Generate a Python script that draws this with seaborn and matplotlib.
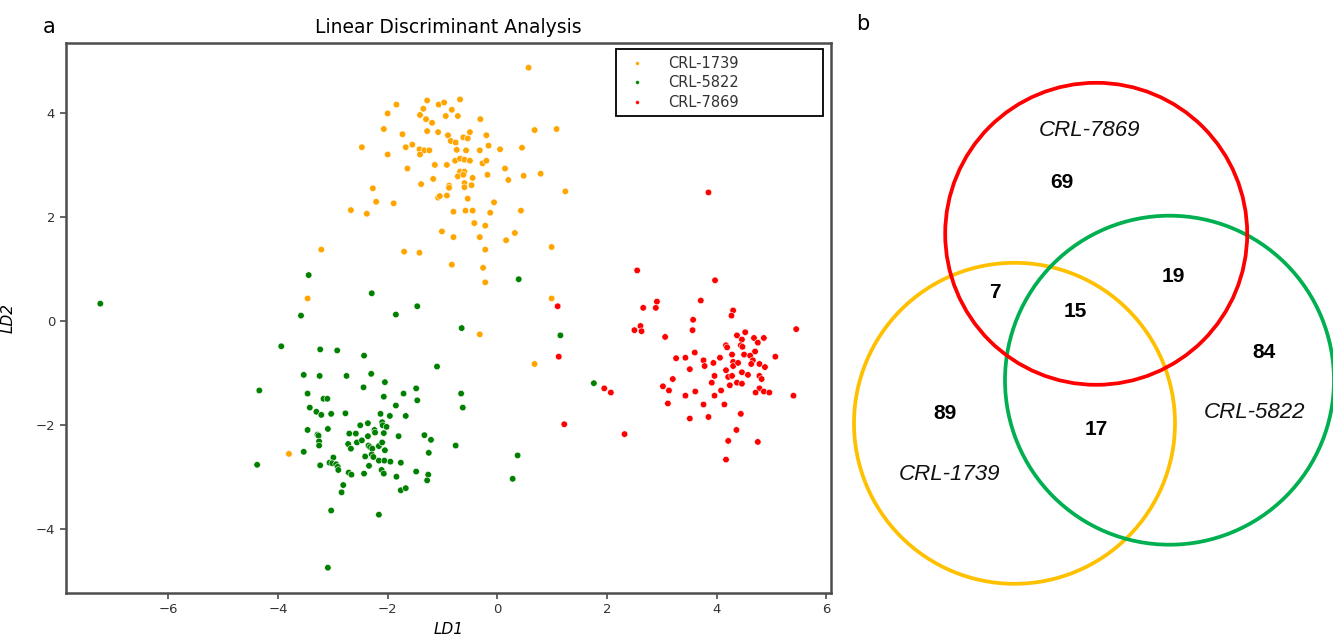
import matplotlib
matplotlib.use("Agg")
import matplotlib.pyplot as plt
import seaborn as sns
import pandas as pd
from matplotlib.patches import Circle

# ---------------- data ----------------
groups = ["CRL-1739", "CRL-5822", "CRL-7869"]
colors = ["orange", "green", "red"]

crl1739 = [(0.57,4.87),(-1.84,4.16),(-1.28,4.24),(-1.07,4.16),(-0.97,4.20),(-0.68,4.26),(-2.00,3.99),(-1.35,4.08),
           (-1.41,3.96),(-1.30,3.88),(-1.19,3.81),(-0.94,3.94),(-0.83,4.06),(-0.72,3.94),(-0.31,3.88),(-2.07,3.69),
           (-1.73,3.59),(-1.28,3.65),(-1.08,3.63),(-0.90,3.57),(-0.50,3.63),(-0.62,3.53),(-0.54,3.51),(-0.20,3.57),
           (0.68,3.67),(1.08,3.69),(-2.47,3.34),(-1.67,3.34),(-1.55,3.39),(-1.42,3.30),(-1.33,3.28),(-1.24,3.28),
           (-1.41,3.20),(-0.85,3.46),(-0.76,3.43),(-0.74,3.29),(-0.57,3.28),(-0.32,3.28),(-0.16,3.37),(0.05,3.30),
           (0.45,3.33),(-2.00,3.20),(-1.64,2.93),(-1.14,3.00),(-0.92,3.00),(-0.77,3.08),(-0.68,3.12),(-0.60,3.10),
           (-0.50,3.08),(-0.27,3.03),(-0.20,3.08),(0.14,2.93),(-0.68,2.87),(-0.60,2.87),(-0.72,2.78),(-0.62,2.81),
           (-0.45,2.75),(-0.18,2.81),(0.20,2.71),(0.48,2.79),(0.79,2.83),(-1.39,2.63),(-1.17,2.73),(-0.88,2.60),
           (-0.88,2.56),(-0.60,2.65),(-0.60,2.57),(-0.47,2.61),(1.24,2.49),(-2.27,2.55),(-1.08,2.37),(-1.05,2.40),
           (-0.92,2.41),(-0.54,2.35),(-2.21,2.29),(-1.89,2.26),(-0.06,2.28),(-2.67,2.13),(-2.38,2.06),(-0.80,2.10),
           (-0.58,2.12),(-0.45,2.12),(-0.13,2.08),(0.43,2.12),(-0.42,1.88),(-0.22,1.83),(-1.01,1.72),(-0.80,1.61),
           (-0.32,1.61),(0.32,1.69),(0.16,1.55),(-3.21,1.37),(-1.70,1.33),(-1.42,1.31),(-0.22,1.37),(0.99,1.42),
           (-0.83,1.08),(-0.26,1.02),(-0.22,0.74),(-3.46,0.43),(0.99,0.43),(-3.80,-2.56),(-0.32,-0.26),(0.68,-0.83)]

crl5822 = [(-7.24,0.33),(-3.94,-0.49),(-4.34,-1.34),(-4.38,-2.77),(-3.44,0.88),(-2.29,0.53),(-1.46,0.28),(-1.85,0.12),
           (0.39,0.80),(-3.58,0.10),(1.15,-0.28),(1.76,-1.20),(-0.65,-0.14),(-3.23,-0.55),(-2.92,-0.57),(-2.43,-0.67),
           (-1.10,-0.88),(-3.53,-1.04),(-3.24,-1.06),(-2.75,-1.06),(-2.30,-1.02),(-2.05,-1.18),(-2.44,-1.28),(-1.48,-1.30),
           (-3.46,-1.40),(-3.17,-1.50),(-3.10,-1.50),(-2.07,-1.46),(-1.71,-1.40),(-1.46,-1.53),(-0.66,-1.40),(-3.42,-1.67),
           (-1.85,-1.63),(-0.63,-1.67),(-3.30,-1.75),(-3.21,-1.81),(-3.03,-1.79),(-2.77,-1.78),(-2.13,-1.79),(-1.96,-1.83),
           (-1.67,-1.83),(-2.50,-2.01),(-2.36,-1.97),(-2.10,-1.95),(-2.09,-2.01),(-2.02,-2.04),(-3.46,-2.10),(-3.09,-2.08),
           (-3.28,-2.19),(-3.26,-2.21),(-2.70,-2.17),(-2.58,-2.17),(-2.24,-2.10),(-2.23,-2.15),(-2.07,-2.16),(-1.80,-2.22),
           (-1.33,-2.20),(-1.21,-2.29),(-3.25,-2.32),(-3.25,-2.40),(-2.72,-2.37),(-2.67,-2.46),(-2.56,-2.34),(-2.47,-2.30),
           (-2.36,-2.22),(-2.35,-2.40),(-2.32,-2.43),(-2.28,-2.46),(-2.16,-2.41),(-2.10,-2.34),(-2.05,-2.49),(-0.76,-2.40),
           (-3.53,-2.52),(-1.25,-2.54),(-2.99,-2.63),(-2.41,-2.61),(-2.29,-2.57),(-2.26,-2.62),(-3.06,-2.73),(-3.01,-2.74),
           (-2.94,-2.76),(-2.91,-2.81),(-2.90,-2.87),(-3.23,-2.78),(-2.34,-2.79),(-2.16,-2.69),(-2.06,-2.69),(-1.95,-2.71),
           (-1.76,-2.73),(0.37,-2.59),(-2.71,-2.92),(-2.66,-2.96),(-2.43,-2.94),(-2.11,-2.87),(-2.07,-2.94),(-1.84,-3.00),
           (-1.48,-2.90),(-1.26,-2.96),(-1.28,-3.07),(0.28,-3.04),(-2.81,-3.16),(-2.84,-3.30),(-1.76,-3.26),(-1.67,-3.22),
           (-3.03,-3.65),(-2.16,-3.73),(-3.09,-4.75)]

crl7869 = [(1.10,0.28),(3.85,2.47),(1.12,-0.69),(1.22,-1.99),(1.95,-1.30),(2.07,-1.38),(2.32,-2.18),(2.55,0.97),
           (2.50,-0.18),(2.61,-0.10),(2.63,-0.20),(2.66,0.25),(2.89,0.25),(2.91,0.37),(3.06,-0.31),(3.97,0.78),
           (3.71,0.39),(4.30,0.20),(4.27,0.10),(3.57,0.02),(3.56,-0.18),(5.45,-0.16),(4.37,-0.28),(4.52,-0.22),
           (4.46,-0.36),(4.68,-0.33),(4.86,-0.33),(4.75,-0.42),(4.17,-0.47),(4.19,-0.51),(4.44,-0.47),(4.47,-0.50),
           (4.70,-0.59),(3.60,-0.61),(3.26,-0.72),(3.43,-0.71),(4.06,-0.71),(4.28,-0.65),(4.50,-0.65),(4.61,-0.67),
           (5.07,-0.69),(3.76,-0.76),(3.78,-0.87),(3.94,-0.81),(4.30,-0.79),(4.30,-0.87),(4.39,-0.81),(4.66,-0.76),
           (4.63,-0.83),(4.78,-0.83),(4.88,-0.89),(3.51,-0.93),(4.17,-0.95),(4.46,-0.99),(4.57,-1.04),(4.78,-1.06),
           (4.82,-1.12),(3.96,-1.06),(4.21,-1.08),(4.28,-1.06),(3.20,-1.12),(3.91,-1.19),(4.37,-1.19),(4.46,-1.21),
           (4.24,-1.24),(3.02,-1.26),(3.13,-1.34),(3.61,-1.36),(4.08,-1.34),(4.78,-1.30),(4.71,-1.38),(4.86,-1.36),
           (4.96,-1.38),(5.40,-1.44),(3.43,-1.44),(3.96,-1.44),(3.11,-1.59),(3.76,-1.61),(4.14,-1.61),(4.44,-1.79),
           (3.51,-1.88),(3.85,-1.85),(4.36,-2.10),(4.21,-2.31),(4.75,-2.33),(4.17,-2.67)]

# Venn counts (region label -> count)
venn_labels = ["CRL-7869", "CRL-5822", "CRL-1739"]
venn_counts = {"7869 only": 69, "1739&7869": 7, "all": 15, "5822&7869": 19,
               "5822 only": 84, "1739 only": 89, "1739&5822": 17}

# ---------------- figure ----------------
sns.set_theme(style="ticks")
plt.rcParams['font.family'] = ['DejaVu Sans']
plt.rcParams['text.color'] = 'black'
plt.rcParams['axes.labelcolor'] = 'black'

W, H = 1333, 635
fig = plt.figure(figsize=(W / 100, H / 100), dpi=100)

rows = []
for g, pts in zip(groups, [crl1739, crl5822, crl7869]):
    for x, y in pts:
        rows.append({"LD1": x, "LD2": y, "group": g})
df = pd.DataFrame(rows)

ax = fig.add_axes([65.5 / W, (H - 592.7) / H, (831 - 65.5) / W, 550 / H])
sns.scatterplot(data=df, x="LD1", y="LD2", hue="group", hue_order=groups,
                palette=dict(zip(groups, colors)), s=22, edgecolor="white",
                linewidth=0.4, ax=ax)

for sp in ax.spines.values():
    sp.set_color("#4d4d4d")
    sp.set_linewidth(1.8)
ax.tick_params(direction="out", length=4, width=1.2, color="#4d4d4d",
               labelsize=9.5, labelcolor="#333333")
ax.set_title("Linear Discriminant Analysis", fontsize=13.5, pad=7, color="black")
ax.set_xlabel("LD1", fontsize=11, style="italic", labelpad=4)
ax.set_ylabel("LD2", fontsize=11, style="italic", labelpad=14)

handles, labels = ax.get_legend_handles_labels()
leg = ax.legend(handles, labels, loc="upper left",
                bbox_to_anchor=(0.719, 0.86, 0.27, 0.128), mode="expand",
                frameon=True, fancybox=False, edgecolor="black", fontsize=10.5,
                markerscale=0.6, borderaxespad=0, handletextpad=1.1,
                labelspacing=0.3, borderpad=0.45)
leg.get_frame().set_linewidth(1.3)
leg.get_frame().set_alpha(1)
for t in leg.get_texts():
    t.set_color("#333333")

fig.text(49 / W, 1 - 27 / H, "a", fontsize=15, ha="center", va="center")
fig.text(862.7 / W, 1 - 24 / H, "b", fontsize=15, ha="center", va="center")

# ---------------- Venn panel ----------------
vax = fig.add_axes([840 / W, 0, (W - 840) / W, 1])
vax.set_xlim(840, W)
vax.set_ylim(H, 0)
vax.axis("off")

circ_specs = [((1014.5, 423.3), 160.5, "#FFC000"),
              ((1169.5, 380.2), 164.5, "#00B050"),
              ((1096.2, 233.8), 151.0, "#FF0000")]
for c, r, col in circ_specs:
    vax.add_patch(Circle(c, r, fill=False, ec=col, lw=2.7, clip_on=False))

num_font = dict(family=["Liberation Sans", "DejaVu Sans"], fontsize=15,
                fontweight="bold", ha="center", va="center", color="black")
lab_font = dict(family=["Liberation Sans", "DejaVu Sans"], fontsize=16,
                style="italic", ha="center", va="center", color="#111111")

num_pos = {"7869 only": (1061.7, 183), "1739&7869": (995.3, 293),
           "all": (1075, 311.7), "5822&7869": (1173.3, 276.5),
           "5822 only": (1264, 352.2), "1739 only": (945.3, 413.8),
           "1739&5822": (1096.7, 429.2)}
for k, v in venn_counts.items():
    vax.text(*num_pos[k], str(v), **num_font)

lab_pos = [(1090, 130), (1254.3, 412), (949.3, 475)]
for lab, p in zip(venn_labels, lab_pos):
    vax.text(*p, lab, **lab_font)

fig.savefig("out.png", dpi=100)
